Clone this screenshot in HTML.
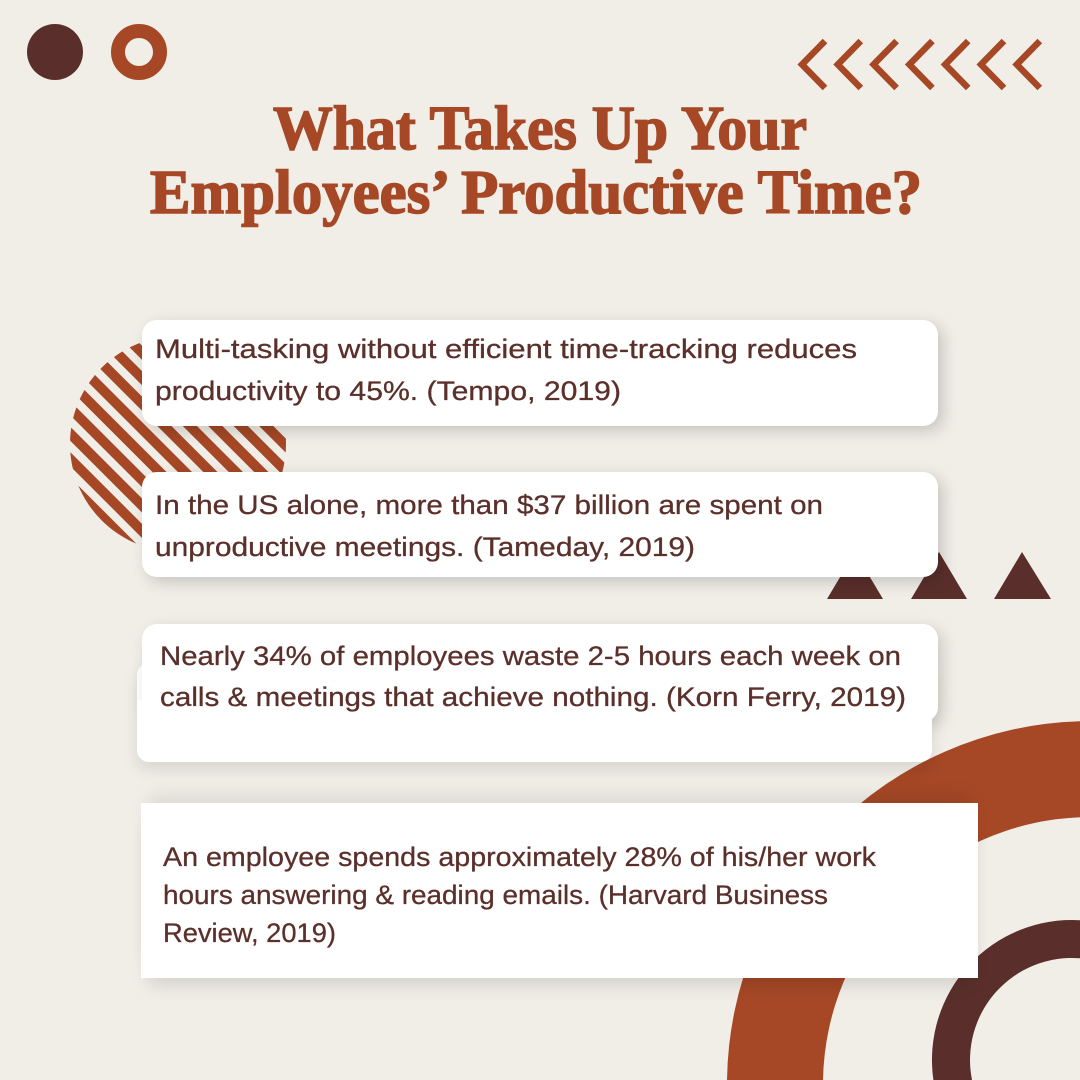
<!DOCTYPE html>
<html><head><meta charset="utf-8">
<style>
html,body{margin:0;padding:0;width:1080px;height:1080px;overflow:hidden;}
body{background:#f1eee7;position:relative;}
.l{position:absolute;left:0;top:0;display:block;}
.card{position:absolute;background:#fff;}
</style></head><body>
<svg class="l" width="1080" height="1080" viewBox="0 0 1080 1080">
  <defs>
    <pattern id="st" patternUnits="userSpaceOnUse" width="18" height="18" patternTransform="rotate(45)">
      <rect x="0" y="0" width="18" height="10" fill="#a64826"/>
    </pattern>
    <clipPath id="cc"><circle cx="178" cy="444" r="108"/></clipPath>
  </defs>
  <!-- top-left circles -->
  <circle cx="55" cy="52" r="28" fill="#5a2f2b"/>
  <circle cx="139" cy="52" r="21" fill="none" stroke="#a64826" stroke-width="14"/>
  <!-- chevrons -->
  <g fill="none" stroke="#a64826" stroke-width="6.5" stroke-linejoin="miter">
    <polyline points="825,41 802,64.5 825,88"/>
    <polyline points="860.8,41 837.8,64.5 860.8,88"/>
    <polyline points="896.6,41 873.6,64.5 896.6,88"/>
    <polyline points="932.4,41 909.4,64.5 932.4,88"/>
    <polyline points="968.2,41 945.2,64.5 968.2,88"/>
    <polyline points="1004,41 981,64.5 1004,88"/>
    <polyline points="1039.8,41 1016.8,64.5 1039.8,88"/>
  </g>
  <!-- striped circle -->
  <rect x="70" y="336" width="216" height="216" fill="url(#st)" clip-path="url(#cc)"/>
  <!-- triangles -->
  <polygon points="827,599 855,552 883,599" fill="#5a2f2b"/>
  <polygon points="911,599 939,552 967,599" fill="#5a2f2b"/>
  <polygon points="994,599 1022,552 1051,599" fill="#5a2f2b"/>
  <!-- big orange ring (visible portion) -->
  <path d="M727,1080 A364,364 0 0,1 1080,721.2 L1080,817.2 A268,268 0 0,0 823,1080 Z" fill="#a64826"/>
  <!-- dark ring (visible portion) -->
  <path d="M933.4,1080 A140,140 0 0,1 1080,920.2 L1080,958.3 A102,102 0 0,0 972,1080 Z" fill="#5a2f2b"/>
</svg>

<div class="card" style="left:142px;top:320px;width:796px;height:106px;border-radius:15px;box-shadow:5px 5px 16px rgba(0,0,0,0.18);"></div>
<div class="card" style="left:142px;top:472px;width:796px;height:105px;border-radius:15px;box-shadow:5px 5px 16px rgba(0,0,0,0.18);"></div>
<div class="card" style="left:137px;top:663px;width:795px;height:99px;border-radius:12px;box-shadow:0 8px 16px rgba(0,0,0,0.10);"></div>
<div class="card" style="left:142px;top:624px;width:796px;height:98px;border-radius:15px;box-shadow:5px 5px 16px rgba(0,0,0,0.16);"></div>
<div class="card" style="left:137px;top:700px;width:795px;height:62px;border-radius:0 0 12px 12px;"></div>
<div class="card" style="left:141px;top:803px;width:837px;height:175px;box-shadow:0 14px 18px -8px rgba(0,0,0,0.14),0 -14px 18px -8px rgba(0,0,0,0.10);"></div>

<svg class="l" width="1080" height="1080" viewBox="0 0 1080 1080">
  <g fill="#a64826" stroke="#a64826" stroke-width="1.6" font-family="'Liberation Serif', serif" font-weight="bold" font-size="62">
    <text x="273" y="149" textLength="534" lengthAdjust="spacingAndGlyphs">What Takes Up Your</text>
    <text x="150" y="213" textLength="772" lengthAdjust="spacingAndGlyphs">Employees’ Productive Time?</text>
  </g>
  <g fill="#5b302b" stroke="#5b302b" stroke-width="0.3" font-family="'Liberation Sans', sans-serif" font-size="27">
    <text x="155" y="358" textLength="702" lengthAdjust="spacingAndGlyphs">Multi-tasking without efficient time-tracking reduces</text>
    <text x="155" y="400" textLength="466" lengthAdjust="spacingAndGlyphs">productivity to 45%. (Tempo, 2019)</text>
    <text x="155" y="514" textLength="668" lengthAdjust="spacingAndGlyphs">In the US alone, more than $37 billion are spent on</text>
    <text x="155" y="556" textLength="540" lengthAdjust="spacingAndGlyphs">unproductive meetings. (Tameday, 2019)</text>
    <text x="160" y="665" textLength="741" lengthAdjust="spacingAndGlyphs">Nearly 34% of employees waste 2-5 hours each week on</text>
    <text x="160" y="706" textLength="746" lengthAdjust="spacingAndGlyphs">calls &amp; meetings that achieve nothing. (Korn Ferry, 2019)</text>
    <text x="163" y="866" textLength="713" lengthAdjust="spacingAndGlyphs">An employee spends approximately 28% of his/her work</text>
    <text x="163" y="904" textLength="665" lengthAdjust="spacingAndGlyphs">hours answering &amp; reading emails. (Harvard Business</text>
    <text x="163" y="942" textLength="173" lengthAdjust="spacingAndGlyphs">Review, 2019)</text>
  </g>
</svg>
</body></html>
